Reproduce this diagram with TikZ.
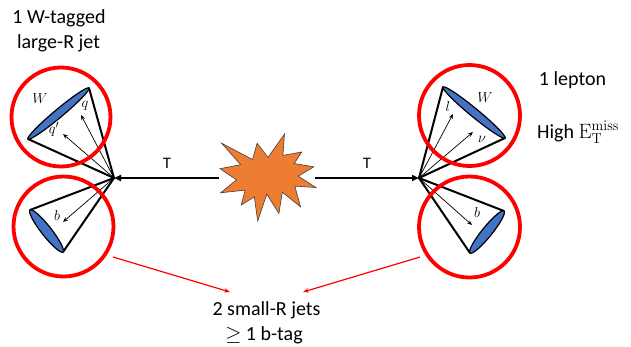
\documentclass[tikz,border=0pt]{standalone}
\usepackage[no-math]{fontspec}
\setmainfont{Carlito}
\usetikzlibrary{arrows.meta,calc}
\definecolor{ringred}{RGB}{255,0,0}
\definecolor{capblue}{RGB}{68,114,196}
\definecolor{blast}{RGB}{237,125,49}
\begin{document}
\begin{tikzpicture}[x=1pt,y=-1pt,
  conedge/.style={line width=2pt, line cap=round},
  track/.style={line width=0.7pt, -{Stealth[length=5pt,width=4pt]}},
  jetend/.style={fill=capblue, draw=black, line width=1.2pt},
  ring/.style={draw=ringred, line width=3.8pt, circle, inner sep=0pt, minimum size=#1},
  beam/.style={line width=1.8pt, -{Triangle[length=7pt,width=6pt]}},
  link/.style={draw=ringred, line width=1.2pt, -{Stealth[length=6pt,width=4.5pt]}},
  caption/.style={font=\fontsize{20}{24}\selectfont, inner sep=0pt},
  mlabel/.style={font=\fontsize{15}{18}\selectfont, inner sep=0pt},
  tlabel/.style={font=\fontsize{16}{18}\selectfont, inner sep=0pt}
]
\useasboundingbox (0,0) rectangle (631,346);

% apexes of the two jet systems
\coordinate (apexL) at (114,178);
\coordinate (apexR) at (419,178);

% ends of the jet caps
\coordinate (ulA) at (89,88);   \coordinate (ulB) at (28,139);
\coordinate (llA) at (30,210);  \coordinate (llB) at (63,252);
\coordinate (urA) at (443,87);  \coordinate (urB) at (505,138);
\coordinate (lrA) at (504,211); \coordinate (lrB) at (470,253);

% track end points
\coordinate (qT) at (81,115);
\coordinate (qpT) at (63,134);
\coordinate (bLT) at (63,222);
\coordinate (lT) at (453,114);
\coordinate (nuT) at (473,132);
\coordinate (bRT) at (472,225);

% central explosion
\draw[fill=blast, draw=black!75, line width=0.6pt, line join=miter]
  (268.0,157.4) -- (284.5,134.0) -- (282.9,155.4) -- (301.7,152.0) --
  (294.2,163.5) -- (313.8,166.8) -- (298.3,176.2) -- (316.0,187.5) --
  (294.8,186.1) -- (300.6,206.9) -- (282.3,192.2) -- (278.9,213.5) --
  (266.8,194.2) -- (257.7,221.0) -- (254.3,196.9) -- (241.2,205.0) --
  (245.2,190.1) -- (220.6,192.8) -- (236.5,179.8) -- (220.0,168.7) --
  (240.6,164.7) -- (221.6,143.2) -- (252.5,159.5) -- (257.1,143.2) -- cycle;
\coordinate (starL) at (219,178);
\coordinate (starR) at (315,178);

% top quarks
\draw[beam] (starL) -- (apexL);
\draw[beam] (starR) -- (apexR);
\node[tlabel] (tL) at (167,163) {T};
\node[tlabel] (tR) at (367,163) {T};

% cones
\foreach \a/\e in {apexL/ulA, apexL/ulB, apexL/llA, apexL/llB,
                   apexR/urA, apexR/urB, apexR/lrA, apexR/lrB}
  \draw[conedge] (\a) -- (\e);

% tracks
\draw[track] (apexL) -- (qT);
\draw[track] (apexL) -- (qpT);
\draw[track] (apexL) -- (bLT);
\draw[track] (apexR) -- (lT);
\draw[track] (apexR) -- (nuT);
\draw[track] (apexR) -- (bRT);

% jet caps: thin ellipses spanning the open end of each cone
\foreach \ea/\eb/\wd in {ulA/ulB/4.2pt, llA/llB/5pt, urA/urB/4.2pt, lrA/lrB/5pt}
  \draw[jetend] let \p1 = ($(\eb)-(\ea)$),
                    \n1 = {atan2(\y1,\x1)},
                    \n2 = {veclen(\x1,\y1)/2} in
    ($(\ea)!0.5!(\eb)$) ellipse [x radius=\n2, y radius=\wd, rotate=\n1];

% particle labels
\node[mlabel] (lW1) at (40,99) {$W$};
\node[mlabel] (lq) at (85,106) {$q$};
\node[mlabel] (lqp) at (54,129) {$q'$};
\node[mlabel] (lb1) at (57,215) {$b$};
\node[mlabel] (lW2) at (485,98) {$W$};
\node[mlabel] (ll) at (448,106) {$l$};
\node[mlabel] (lnu) at (482,139) {$\nu$};
\node[mlabel] (lb2) at (477,212) {$b$};

% selection rings
\node[ring=99pt] (cUL) at (61,117) {};
\node[ring=100pt] (cLL) at (63.5,226.5) {};
\node[ring=101pt] (cUR) at (469.5,115.5) {};
\node[ring=101pt] (cLR) at (469.5,227) {};

% captions
\node[caption, anchor=base] (wtag1) at (59,23) {1 W-tagged};
\node[caption, anchor=base] (wtag2) at (58.5,48) {large-R jet};
\node[caption, anchor=base] (lep) at (572.5,85) {1 lepton};
\node[caption, anchor=base west] (met) at (537,138) {High $\mathrm{E}_{\mathrm{T}}^{\mathrm{miss}}$};
\node[caption, anchor=base] (sr1) at (266.5,315) {2 small-R jets};
\node[caption, anchor=base] (sr2) at (264,340) {$\geq$ 1 b-tag};

% links from the small-R rings to the caption
\coordinate (lkL) at (113,257);  \coordinate (lkLend) at (230,292);
\coordinate (lkR) at (420,257);  \coordinate (lkRend) at (303,292);
\draw[link] (lkL) -- (lkLend);
\draw[link] (lkR) -- (lkRend);
\end{tikzpicture}
\end{document}
